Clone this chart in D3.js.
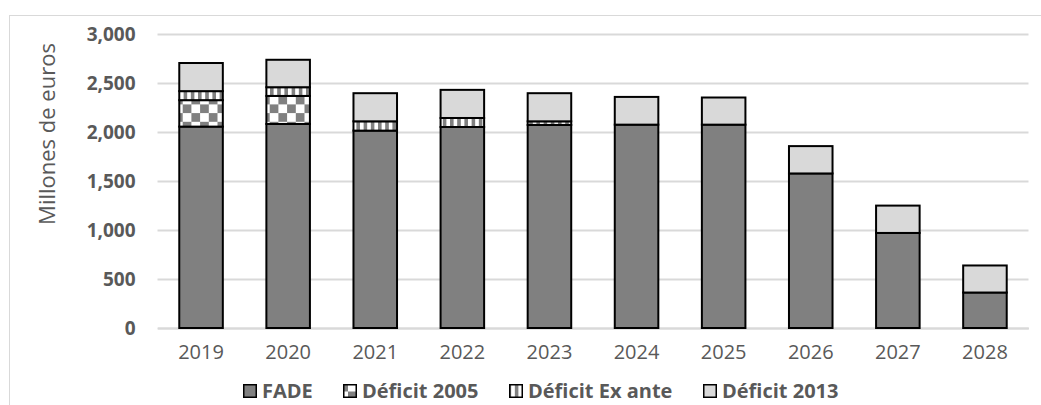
<!DOCTYPE html>
<html>
<head>
<meta charset="utf-8">
<script src="https://cdn.jsdelivr.net/npm/d3@7"></script>
<style>
  html, body { margin: 0; padding: 0; background: #fff; }
  svg { display: block; font-family: "Open Sans", sans-serif; }
</style>
</head>
<body>
<svg id="chart" width="1041" height="405"></svg>
<script>
// Annual amounts, millions of euros
const years = ["2019", "2020", "2021", "2022", "2023", "2024", "2025", "2026", "2027", "2028"];
const fade = [2055, 2082, 2014, 2051, 2072, 2075, 2075, 1577, 970, 362];
const deficit2005 = [270, 286, 0, 0, 0, 0, 0, 0, 0, 0];
const deficitExAnte = [92, 89, 95, 92, 37, 0, 0, 0, 0, 0];
const deficit2013 = [287, 280, 287, 287, 287, 283, 277, 279, 279, 276];
const seriesNames = ["FADE", "Déficit 2005", "Déficit Ex ante", "Déficit 2013"];
const yTicks = [0, 500, 1000, 1500, 2000, 2500, 3000];

const svg = d3.select("#chart");
const textColor = "#595959";
const gridColor = "#d9d9d9";

// Fill patterns for the stacked segments
const defs = svg.append("defs");
const chk = 8.7;
const checker = defs.append("pattern").attr("id", "checker")
  .attr("patternUnits", "userSpaceOnUse")
  .attr("width", chk * 2).attr("height", chk * 2);
checker.append("rect").attr("width", chk * 2).attr("height", chk * 2).attr("fill", "#fff");
checker.append("rect").attr("x", chk).attr("y", 0).attr("width", chk).attr("height", chk).attr("fill", "#808080");
checker.append("rect").attr("x", 0).attr("y", chk).attr("width", chk).attr("height", chk).attr("fill", "#808080");

const stp = 7.2;
const stripes = defs.append("pattern").attr("id", "stripes")
  .attr("patternUnits", "userSpaceOnUse")
  .attr("width", stp).attr("height", stp);
stripes.append("rect").attr("width", stp).attr("height", stp).attr("fill", "#fff");
stripes.append("rect").attr("x", stp / 2).attr("width", stp / 2).attr("height", stp).attr("fill", "#808080");

const fills = ["#808080", "url(#checker)", "url(#stripes)", "#d9d9d9"];

// Outer chart frame
svg.append("rect").attr("x", 9.5).attr("y", 15.5).attr("width", 1100).attr("height", 500)
  .attr("fill", "none").attr("stroke", gridColor).attr("stroke-width", 1);

const plot = { left: 157.5, right: 1028.5, top: 34, bottom: 328 };

const x = d3.scaleBand().domain(years).range([plot.left, plot.right]).paddingInner(0.5).paddingOuter(0.25);
const y = d3.scaleLinear().domain([0, 3000]).range([plot.bottom, plot.top]);

// Gridlines and tick labels
const yAxis = svg.append("g")
  .attr("transform", `translate(${plot.left},0)`)
  .call(d3.axisLeft(y).tickValues(yTicks).tickFormat(d3.format(",")).tickSize(-(plot.right - plot.left)).tickPadding(22));
yAxis.select(".domain").remove();
yAxis.selectAll(".tick line").attr("stroke", gridColor).attr("stroke-width", 2);
yAxis.selectAll(".tick text")
  .attr("fill", textColor).attr("font-size", 19).attr("font-weight", "bold")
  .attr("font-family", "'Open Sans', sans-serif");

// Category labels
const xAxis = svg.append("g")
  .attr("transform", `translate(0,${plot.bottom})`)
  .call(d3.axisBottom(x).tickSize(0).tickPadding(17));
xAxis.select(".domain").attr("stroke", gridColor).attr("stroke-width", 2);
xAxis.selectAll(".tick text")
  .attr("fill", textColor).attr("font-size", 20)
  .attr("font-family", "'Open Sans', sans-serif");

// Stacked bars
const rows = years.map((yr, i) => ({
  year: yr,
  "FADE": fade[i],
  "Déficit 2005": deficit2005[i],
  "Déficit Ex ante": deficitExAnte[i],
  "Déficit 2013": deficit2013[i]
}));
const stacked = d3.stack().keys(seriesNames)(rows);

svg.append("g").selectAll("g")
  .data(stacked)
  .join("g")
  .attr("fill", (d, i) => fills[i])
  .selectAll("rect")
  .data(d => d.filter(s => s[1] - s[0] > 0))
  .join("rect")
  .attr("x", d => x(d.data.year))
  .attr("width", x.bandwidth())
  .attr("y", d => y(d[1]))
  .attr("height", d => y(d[0]) - y(d[1]))
  .attr("stroke", "#000")
  .attr("stroke-width", 2);

// Axis title
svg.append("text")
  .attr("transform", "translate(55,134) rotate(-90)")
  .attr("text-anchor", "middle")
  .attr("fill", textColor)
  .attr("font-size", 22)
  .text("Millones de euros");

// Legend
const legendX = [243, 343, 509, 703];
const legend = svg.append("g");
seriesNames.forEach((name, i) => {
  legend.append("rect")
    .attr("x", legendX[i] + 0.75).attr("y", 384.75)
    .attr("width", 12.5).attr("height", 12.5)
    .attr("fill", fills[i]).attr("stroke", "#000").attr("stroke-width", 1.5);
  legend.append("text")
    .attr("x", legendX[i] + 19).attr("y", 398)
    .attr("fill", textColor).attr("font-size", 20).attr("font-weight", "bold")
    .text(name);
});
</script>
</body>
</html>
